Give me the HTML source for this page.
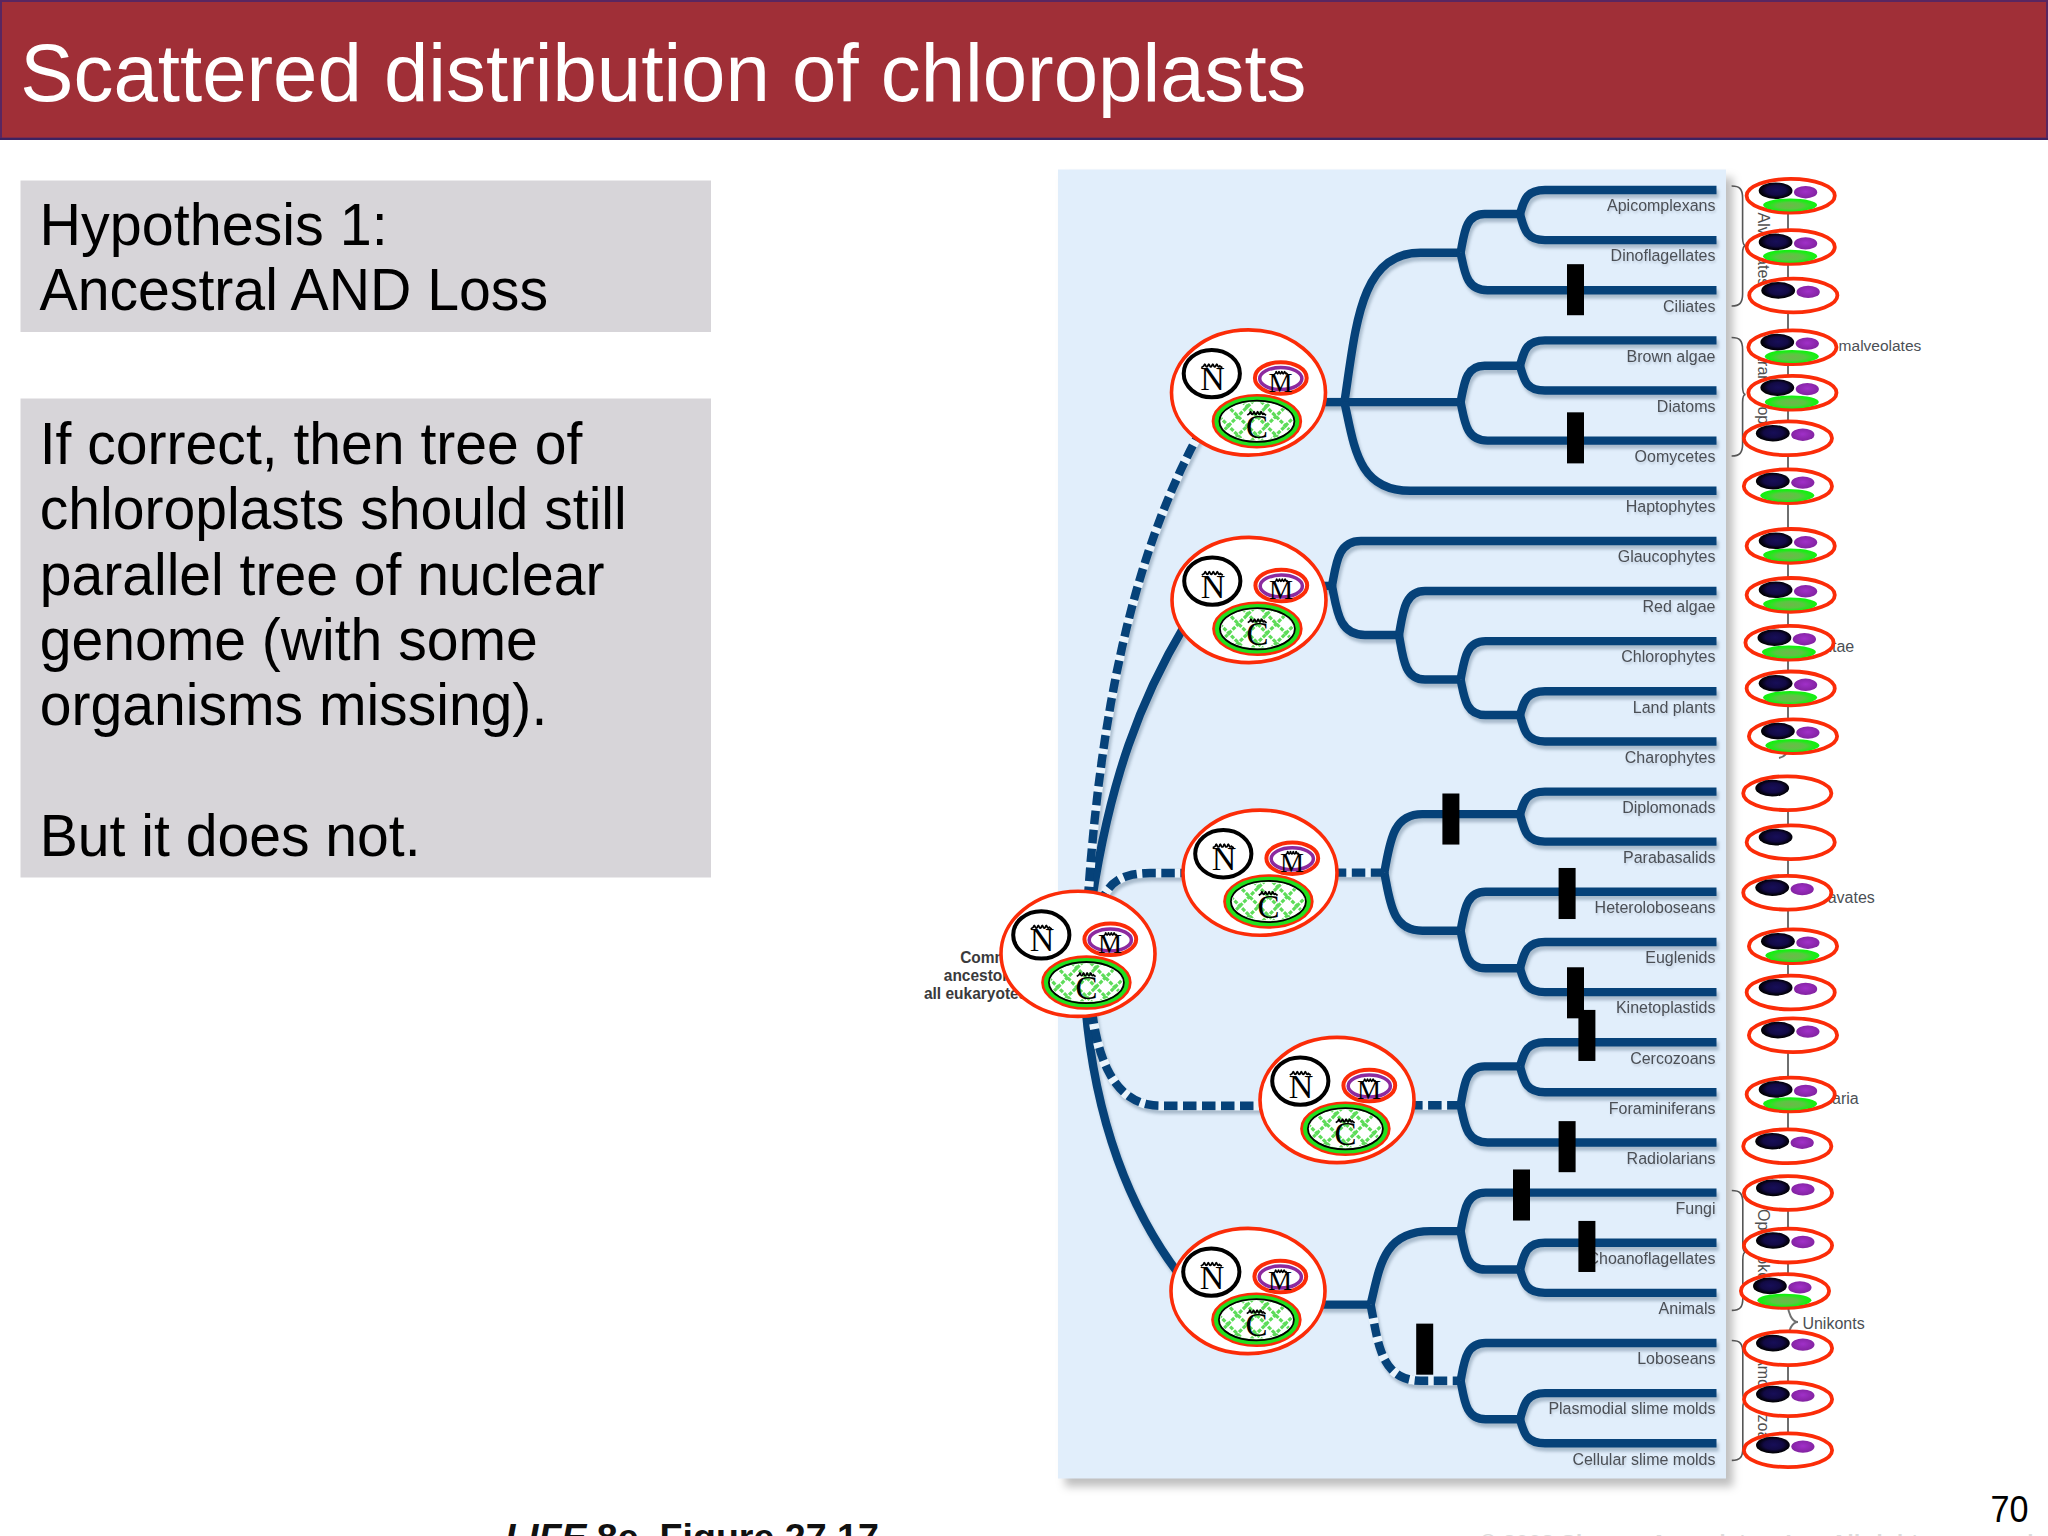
<!DOCTYPE html>
<html><head><meta charset="utf-8"><style>
html,body{margin:0;padding:0;background:#fff;}
body{width:2048px;height:1536px;position:relative;overflow:hidden;font-family:"Liberation Sans",sans-serif;}
</style></head><body>
<svg width="2048" height="1536" style="position:absolute;left:0;top:0">
<rect x="1" y="1" width="2046" height="137.5" fill="#a02f37" stroke="#5a2660" stroke-width="2"/>
<line x1="0" y1="139" x2="2048" y2="139" stroke="#3c2260" stroke-width="2"/>
<text transform="translate(0,100.6) scale(1,1.02)" x="20.3" y="0" font-family="Liberation Sans" font-size="79.8" fill="#fff">Scattered distribution of chloroplasts</text>
<rect x="20.5" y="180.5" width="690.5" height="151.5" fill="#d7d5d9"/>
<rect x="20.5" y="398.5" width="690.5" height="479" fill="#d7d5d9"/>
<text transform="translate(39.5,245.3) scale(1,1.027)" x="0" y="0" font-family="Liberation Sans" font-size="57.5" fill="#000">Hypothesis 1:</text>
<text transform="translate(39.5,309.8) scale(1,1.032)" x="0" y="0" font-family="Liberation Sans" font-size="57.2" fill="#000">Ancestral AND Loss</text>
<text transform="translate(39.7,463.8) scale(1,1.034)" x="0" y="0" font-family="Liberation Sans" font-size="57.1" fill="#000">If correct, then tree of</text>
<text transform="translate(39.7,529.2) scale(1,1.034)" x="0" y="0" font-family="Liberation Sans" font-size="57.1" fill="#000">chloroplasts should still</text>
<text transform="translate(39.7,594.5) scale(1,1.034)" x="0" y="0" font-family="Liberation Sans" font-size="57.1" fill="#000">parallel tree of nuclear</text>
<text transform="translate(39.7,659.9) scale(1,1.034)" x="0" y="0" font-family="Liberation Sans" font-size="57.1" fill="#000">genome (with some</text>
<text transform="translate(39.7,725.3) scale(1,1.034)" x="0" y="0" font-family="Liberation Sans" font-size="57.1" fill="#000">organisms missing).</text>
<text transform="translate(39.7,856.0) scale(1,1.034)" x="0" y="0" font-family="Liberation Sans" font-size="57.1" fill="#000">But it does not.</text>
</svg>
<svg width="2048" height="1536" viewBox="0 0 2048 1536" style="position:absolute;left:0;top:0">
<defs>
<filter id="sh" x="-5%" y="-5%" width="110%" height="110%" color-interpolation-filters="sRGB"><feGaussianBlur in="SourceAlpha" stdDeviation="1.5"/><feOffset dx="1.5" dy="4" result="b"/><feFlood flood-color="#506a80" flood-opacity="0.38"/><feComposite in2="b" operator="in"/><feMerge><feMergeNode/><feMergeNode in="SourceGraphic"/></feMerge></filter>
<filter id="psh" x="-10%" y="-10%" width="120%" height="120%" color-interpolation-filters="sRGB"><feGaussianBlur in="SourceAlpha" stdDeviation="4"/><feOffset dx="7" dy="8" result="b"/><feFlood flood-color="#000" flood-opacity="0.25"/><feComposite in2="b" operator="in"/><feMerge><feMergeNode/><feMergeNode in="SourceGraphic"/></feMerge></filter>
<filter id="tsh" x="-5%" y="-20%" width="110%" height="140%" color-interpolation-filters="sRGB"><feGaussianBlur in="SourceAlpha" stdDeviation="0.8"/><feOffset dx="0.8" dy="1.5" result="b"/><feFlood flood-color="#7a8aa0" flood-opacity="0.35"/><feComposite in2="b" operator="in"/><feMerge><feMergeNode/><feMergeNode in="SourceGraphic"/></feMerge></filter>
<radialGradient id="gN" cx="52%" cy="48%" r="52%"><stop offset="0" stop-color="#170e58"/><stop offset="0.55" stop-color="#120a45"/><stop offset="0.82" stop-color="#050214"/><stop offset="1" stop-color="#000"/></radialGradient>
<radialGradient id="gM" cx="50%" cy="45%" r="55%"><stop offset="0" stop-color="#a030c8"/><stop offset="1" stop-color="#8222a0"/></radialGradient>
<radialGradient id="gC" cx="50%" cy="55%" r="55%"><stop offset="0" stop-color="#6db84a"/><stop offset="0.45" stop-color="#58c840"/><stop offset="0.75" stop-color="#1cec16"/><stop offset="1" stop-color="#0ef00e"/></radialGradient>
</defs>
<rect x="1058" y="169.5" width="668" height="1309" fill="#e1eefb" filter="url(#psh)"/>
<g transform="matrix(1,0,0,1.001,0,-0.69)">
<g filter="url(#sh)" fill="none" stroke="#064279" stroke-width="8.4">
<path d="M1320,402.4 H1344.4"/>
<path d="M1344.4,402.4 C1355.8,327.8 1359.6,253.2 1420.4,253.2 H1460.6"/>
<path d="M1344.4,402.4 H1460.6"/>
<path d="M1344.4,402.4 C1354.3,446.7 1357.6,491.0 1410.4,491.0 H1716.5"/>
<path d="M1460.6,253.2 C1464.2,233.8 1465.4,214.4 1484.6,214.4 H1520.0"/>
<path d="M1460.6,253.2 C1464.6,271.9 1466.0,290.7 1487.6,290.7 H1716.5"/>
<path d="M1520.0,214.4 C1523.8,202.4 1525.0,190.5 1545.0,190.5 H1716.5"/>
<path d="M1520.0,214.4 C1523.8,227.5 1525.0,240.6 1545.0,240.6 H1716.5"/>
<path d="M1460.6,402.4 C1464.2,384.2 1465.4,366.0 1484.6,366.0 H1520.0"/>
<path d="M1460.6,402.4 C1464.6,421.6 1466.0,440.9 1487.6,440.9 H1716.5"/>
<path d="M1520.0,366.0 C1523.8,353.4 1525.0,340.7 1545.0,340.7 H1716.5"/>
<path d="M1520.0,366.0 C1523.8,378.4 1525.0,390.8 1545.0,390.8 H1716.5"/>
<path d="M1320,586 H1332"/>
<path d="M1332.0,586.0 C1336.3,563.5 1337.8,541.1 1361.0,541.1 H1716.5"/>
<path d="M1332.0,586.0 C1337.0,610.5 1338.6,635.0 1365.0,635.0 H1399.0"/>
<path d="M1399.0,635.0 C1402.9,613.1 1404.2,591.1 1425.0,591.1 H1716.5"/>
<path d="M1399.0,635.0 C1402.9,657.2 1404.2,679.5 1425.0,679.5 H1460.6"/>
<path d="M1460.6,679.5 C1464.3,660.4 1465.6,641.2 1485.6,641.2 H1716.5"/>
<path d="M1460.6,679.5 C1464.3,697.2 1465.6,715.0 1485.6,715.0 H1520.0"/>
<path d="M1520.0,715.0 C1523.8,703.1 1525.0,691.3 1545.0,691.3 H1716.5"/>
<path d="M1520.0,715.0 C1523.8,728.2 1525.0,741.4 1545.0,741.4 H1716.5"/>
<path d="M1384.3,872.4 C1390.0,843.2 1391.9,814.0 1422.3,814.0 H1520.0"/>
<path d="M1384.3,872.4 C1390.0,901.5 1391.9,930.5 1422.3,930.5 H1460.6"/>
<path d="M1520.0,814.0 C1523.8,802.7 1525.0,791.5 1545.0,791.5 H1716.5"/>
<path d="M1520.0,814.0 C1523.8,827.8 1525.0,841.5 1545.0,841.5 H1716.5"/>
<path d="M1460.6,930.5 C1464.3,911.1 1465.6,891.6 1485.6,891.6 H1716.5"/>
<path d="M1460.6,930.5 C1464.3,949.2 1465.6,968.0 1485.6,968.0 H1520.0"/>
<path d="M1520.0,968.0 C1523.8,954.8 1525.0,941.7 1545.0,941.7 H1716.5"/>
<path d="M1520.0,968.0 C1523.8,979.9 1525.0,991.8 1545.0,991.8 H1716.5"/>
<path d="M1460.6,1104.8 C1464.2,1085.4 1465.4,1066.0 1484.6,1066.0 H1520.0"/>
<path d="M1460.6,1104.8 C1464.6,1123.4 1466.0,1142.0 1487.6,1142.0 H1716.5"/>
<path d="M1520.0,1066.0 C1523.8,1053.9 1525.0,1041.9 1545.0,1041.9 H1716.5"/>
<path d="M1520.0,1066.0 C1523.8,1079.0 1525.0,1091.9 1545.0,1091.9 H1716.5"/>
<path d="M1320,1304 H1370.6"/>
<path d="M1370.6,1304.0 C1379.6,1267.3 1382.6,1230.6 1430.6,1230.6 H1460.6"/>
<path d="M1460.6,1230.6 C1464.3,1211.3 1465.6,1192.1 1485.6,1192.1 H1716.5"/>
<path d="M1460.6,1230.6 C1464.3,1249.8 1465.6,1269.0 1485.6,1269.0 H1520.0"/>
<path d="M1520.0,1269.0 C1523.8,1255.6 1525.0,1242.2 1545.0,1242.2 H1716.5"/>
<path d="M1520.0,1269.0 C1523.8,1280.6 1525.0,1292.3 1545.0,1292.3 H1716.5"/>
<path d="M1460.6,1380.0 C1464.3,1361.2 1465.6,1342.3 1485.6,1342.3 H1716.5"/>
<path d="M1460.6,1380.0 C1464.3,1399.3 1465.6,1418.6 1485.6,1418.6 H1520.0"/>
<path d="M1520.0,1418.6 C1523.8,1405.5 1525.0,1392.4 1545.0,1392.4 H1716.5"/>
<path d="M1520.0,1418.6 C1523.8,1430.5 1525.0,1442.5 1545.0,1442.5 H1716.5"/>
<path d="M1092,900 C1110,780 1140,700 1185,625"/>
<path d="M1085.4,1005 C1095,1120 1130,1210 1180,1275"/>
<path d="M1384.3,872.4 H1330"/>
<path d="M1460.6,1104.8 H1410"/>
<path d="M1370.6,1304.0 C1378.1,1342.0 1380.6,1380.0 1420.6,1380.0 H1460.6"/>
<path d="M1087.7,900 C1100,720 1130,560 1200,432"/>
<path d="M1100,905 C1108,880 1125,872.8 1150,872.8 H1190"/>
<path d="M1092,1010 C1098,1060 1115,1105.3 1160,1105.3 H1265"/>
</g>
<g fill="none" stroke="#eaf4fc" stroke-width="9.5">
<path d="M1384.3,872.4 H1330" stroke-dasharray="5.5 13.5" stroke-dashoffset="-13.5"/>
<path d="M1460.6,1104.8 H1410" stroke-dasharray="5.5 13.5" stroke-dashoffset="-13.5"/>
<path d="M1370.6,1304.0 C1378.1,1342.0 1380.6,1380.0 1420.6,1380.0 H1460.6" stroke-dasharray="5.5 13.5" stroke-dashoffset="-13.5"/>
<path d="M1087.7,900 C1100,720 1130,560 1200,432" stroke-dasharray="5.5 13.5" stroke-dashoffset="-13.5"/>
<path d="M1100,905 C1108,880 1125,872.8 1150,872.8 H1190" stroke-dasharray="5.5 13.5" stroke-dashoffset="-13.5"/>
<path d="M1092,1010 C1098,1060 1115,1105.3 1160,1105.3 H1265" stroke-dasharray="5.5 13.5" stroke-dashoffset="-13.5"/>
</g>
<g filter="url(#tsh)" font-family="Liberation Sans" font-size="16" fill="#4b4f55" text-anchor="end">
<text x="1715.5" y="211.8">Apicomplexans</text>
<text x="1715.5" y="261.9">Dinoflagellates</text>
<text x="1715.5" y="312.0">Ciliates</text>
<text x="1715.5" y="362.0">Brown algae</text>
<text x="1715.5" y="412.1">Diatoms</text>
<text x="1715.5" y="462.2">Oomycetes</text>
<text x="1715.5" y="512.3">Haptophytes</text>
<text x="1715.5" y="562.4">Glaucophytes</text>
<text x="1715.5" y="612.4">Red algae</text>
<text x="1715.5" y="662.5">Chlorophytes</text>
<text x="1715.5" y="712.6">Land plants</text>
<text x="1715.5" y="762.7">Charophytes</text>
<text x="1715.5" y="812.8">Diplomonads</text>
<text x="1715.5" y="862.8">Parabasalids</text>
<text x="1715.5" y="912.9">Heteroloboseans</text>
<text x="1715.5" y="963.0">Euglenids</text>
<text x="1715.5" y="1013.1">Kinetoplastids</text>
<text x="1715.5" y="1063.2">Cercozoans</text>
<text x="1715.5" y="1113.2">Foraminiferans</text>
<text x="1715.5" y="1163.3">Radiolarians</text>
<text x="1715.5" y="1213.4">Fungi</text>
<text x="1715.5" y="1263.5">Choanoflagellates</text>
<text x="1715.5" y="1313.6">Animals</text>
<text x="1715.5" y="1363.6">Loboseans</text>
<text x="1715.5" y="1413.7">Plasmodial slime molds</text>
<text x="1715.5" y="1463.8">Cellular slime molds</text>
</g>
<rect x="1567" y="264.6" width="17" height="51" fill="#000"/>
<rect x="1567" y="412.6" width="17" height="51" fill="#000"/>
<rect x="1442.4" y="793.4" width="17" height="51" fill="#000"/>
<rect x="1558.6" y="867.8" width="17" height="51" fill="#000"/>
<rect x="1567" y="967" width="17" height="51" fill="#000"/>
<rect x="1578.4" y="1009.6" width="17" height="51" fill="#000"/>
<rect x="1558.6" y="1120.7" width="17" height="51" fill="#000"/>
<rect x="1513" y="1169" width="17" height="51" fill="#000"/>
<rect x="1578.4" y="1220.4" width="17" height="51" fill="#000"/>
<rect x="1416.2" y="1323" width="17" height="51" fill="#000"/>
</g>
<g font-family="Liberation Sans" font-weight="bold" font-size="15.5" fill="#3a3a3c" text-anchor="end">
<text transform="translate(1027.3,962.6) scale(1,1.06)">Common</text><text transform="translate(1027.3,981) scale(1,1.06)">ancestor of</text><text transform="translate(1027.3,999.4) scale(1,1.06)">all eukaryotes</text>
</g>
<g fill="none" stroke="#555" stroke-width="1.6">
<path d="M1731.6,186 C1739.6,186 1742.6,189 1742.6,198 V237.6 C1742.6,242.6 1743.6,245.6 1745.6,245.6 C1743.6,245.6 1742.6,248.6 1742.6,253.6 V294 C1742.6,303 1739.6,306 1731.6,306"/>
<path d="M1731.6,337.5 C1739.6,337.5 1742.6,340.5 1742.6,349.5 V386.5 C1742.6,391.5 1743.6,394.5 1745.6,394.5 C1743.6,394.5 1742.6,397.5 1742.6,402.5 V444 C1742.6,453 1739.6,456 1731.6,456"/>
<path d="M1731.8,1190.5 C1739.8,1190.5 1742.8,1193.5 1742.8,1202.5 V1244 C1742.8,1249 1743.8,1252 1745.8,1252 C1743.8,1252 1742.8,1255 1742.8,1260 V1298.4 C1742.8,1307.4 1739.8,1310.4 1731.8,1310.4"/>
<path d="M1731.8,1340.5 C1739.8,1340.5 1742.8,1343.5 1742.8,1352.5 V1392.5 C1742.8,1397.5 1743.8,1400.5 1745.8,1400.5 C1743.8,1400.5 1742.8,1403.5 1742.8,1408.5 V1448.4 C1742.8,1457.4 1739.8,1460.4 1731.8,1460.4"/>
</g>
<g stroke="#6f6f6f" stroke-width="2" fill="none">
<path d="M1788,210 V745 C1788,752 1785,757 1779,758"/>
<path d="M1788,800 V1010"/><path d="M1788,1040 V1165"/>
<path d="M1788,1205 V1305 C1788,1313 1792,1322 1798,1322 C1792,1322 1788,1331 1788,1339 V1440"/>
</g>
<g font-family="Liberation Sans" font-size="16" fill="#505050">
<text transform="translate(1757.5,212.5) rotate(90)">Alveolates</text>
<text transform="translate(1757.5,346) rotate(90)">Stramenopiles</text>
<text transform="translate(1757.5,1209) rotate(90)">Opisthokonts</text>
<text transform="translate(1757.5,1355) rotate(90)">Amoebozoans</text>
</g>
<g font-family="Liberation Sans" font-size="16" fill="#4b4f55">
<text x="1838.6" y="350.5" font-size="15.5">malveolates</text>
<text x="1800" y="652">Plantae</text>
<text x="1801" y="903">Excavates</text>
<text x="1800" y="1104">Rhizaria</text>
<text x="1802.4" y="1328.5">Unikonts</text>
</g>
<ellipse cx="1790.7" cy="195.8" rx="44.1" ry="16.9" fill="#fff" stroke="#fb2c08" stroke-width="3.8"/>
<ellipse cx="1790.1" cy="205.0" rx="27" ry="6.5" fill="url(#gC)"/>
<ellipse cx="1775.6" cy="190.7" rx="16.9" ry="8.3" fill="url(#gN)"/>
<ellipse cx="1805.6" cy="192.2" rx="11.6" ry="6.2" fill="url(#gM)"/>
<ellipse cx="1790.7" cy="247" rx="44.1" ry="16.9" fill="#fff" stroke="#fb2c08" stroke-width="3.8"/>
<ellipse cx="1790.1" cy="256.2" rx="27" ry="6.5" fill="url(#gC)"/>
<ellipse cx="1775.6" cy="241.9" rx="16.9" ry="8.3" fill="url(#gN)"/>
<ellipse cx="1805.6" cy="243.4" rx="11.6" ry="6.2" fill="url(#gM)"/>
<ellipse cx="1793.3" cy="295.5" rx="44.1" ry="16.9" fill="#fff" stroke="#fb2c08" stroke-width="3.8"/>
<ellipse cx="1778.2" cy="290.4" rx="16.9" ry="8.3" fill="url(#gN)"/>
<ellipse cx="1808.2" cy="291.9" rx="11.6" ry="6.2" fill="url(#gM)"/>
<ellipse cx="1792.4" cy="347.2" rx="44.1" ry="16.9" fill="#fff" stroke="#fb2c08" stroke-width="3.8"/>
<ellipse cx="1791.8" cy="356.4" rx="27" ry="6.5" fill="url(#gC)"/>
<ellipse cx="1777.3" cy="342.1" rx="16.9" ry="8.3" fill="url(#gN)"/>
<ellipse cx="1807.3" cy="343.6" rx="11.6" ry="6.2" fill="url(#gM)"/>
<ellipse cx="1792.4" cy="392.7" rx="44.1" ry="16.9" fill="#fff" stroke="#fb2c08" stroke-width="3.8"/>
<ellipse cx="1791.8" cy="401.9" rx="27" ry="6.5" fill="url(#gC)"/>
<ellipse cx="1777.3" cy="387.6" rx="16.9" ry="8.3" fill="url(#gN)"/>
<ellipse cx="1807.3" cy="389.1" rx="11.6" ry="6.2" fill="url(#gM)"/>
<ellipse cx="1787.9" cy="438.3" rx="44.1" ry="16.9" fill="#fff" stroke="#fb2c08" stroke-width="3.8"/>
<ellipse cx="1772.8" cy="433.2" rx="16.9" ry="8.3" fill="url(#gN)"/>
<ellipse cx="1802.8" cy="434.7" rx="11.6" ry="6.2" fill="url(#gM)"/>
<ellipse cx="1787.9" cy="486.2" rx="44.1" ry="16.9" fill="#fff" stroke="#fb2c08" stroke-width="3.8"/>
<ellipse cx="1787.3" cy="495.4" rx="27" ry="6.5" fill="url(#gC)"/>
<ellipse cx="1772.8" cy="481.1" rx="16.9" ry="8.3" fill="url(#gN)"/>
<ellipse cx="1802.8" cy="482.6" rx="11.6" ry="6.2" fill="url(#gM)"/>
<ellipse cx="1790.7" cy="545.9" rx="44.1" ry="16.9" fill="#fff" stroke="#fb2c08" stroke-width="3.8"/>
<ellipse cx="1790.1" cy="555.1" rx="27" ry="6.5" fill="url(#gC)"/>
<ellipse cx="1775.6" cy="540.8" rx="16.9" ry="8.3" fill="url(#gN)"/>
<ellipse cx="1805.6" cy="542.3" rx="11.6" ry="6.2" fill="url(#gM)"/>
<ellipse cx="1790.7" cy="594.9" rx="44.1" ry="16.9" fill="#fff" stroke="#fb2c08" stroke-width="3.8"/>
<ellipse cx="1790.1" cy="604.1" rx="27" ry="6.5" fill="url(#gC)"/>
<ellipse cx="1775.6" cy="589.8" rx="16.9" ry="8.3" fill="url(#gN)"/>
<ellipse cx="1805.6" cy="591.3" rx="11.6" ry="6.2" fill="url(#gM)"/>
<ellipse cx="1789.5" cy="642.8" rx="44.1" ry="16.9" fill="#fff" stroke="#fb2c08" stroke-width="3.8"/>
<ellipse cx="1788.9" cy="652.0" rx="27" ry="6.5" fill="url(#gC)"/>
<ellipse cx="1774.4" cy="637.7" rx="16.9" ry="8.3" fill="url(#gN)"/>
<ellipse cx="1804.4" cy="639.2" rx="11.6" ry="6.2" fill="url(#gM)"/>
<ellipse cx="1790.7" cy="688.4" rx="44.1" ry="16.9" fill="#fff" stroke="#fb2c08" stroke-width="3.8"/>
<ellipse cx="1790.1" cy="697.6" rx="27" ry="6.5" fill="url(#gC)"/>
<ellipse cx="1775.6" cy="683.3" rx="16.9" ry="8.3" fill="url(#gN)"/>
<ellipse cx="1805.6" cy="684.8" rx="11.6" ry="6.2" fill="url(#gM)"/>
<ellipse cx="1793" cy="736.2" rx="44.1" ry="16.9" fill="#fff" stroke="#fb2c08" stroke-width="3.8"/>
<ellipse cx="1792.4" cy="745.4" rx="27" ry="6.5" fill="url(#gC)"/>
<ellipse cx="1777.9" cy="731.1" rx="16.9" ry="8.3" fill="url(#gN)"/>
<ellipse cx="1807.9" cy="732.6" rx="11.6" ry="6.2" fill="url(#gM)"/>
<ellipse cx="1787.3" cy="793.2" rx="44.1" ry="16.9" fill="#fff" stroke="#fb2c08" stroke-width="3.8"/>
<ellipse cx="1772.2" cy="788.1" rx="16.9" ry="8.3" fill="url(#gN)"/>
<ellipse cx="1790.7" cy="842.2" rx="44.1" ry="16.9" fill="#fff" stroke="#fb2c08" stroke-width="3.8"/>
<ellipse cx="1775.6" cy="837.1" rx="16.9" ry="8.3" fill="url(#gN)"/>
<ellipse cx="1787.3" cy="892.7" rx="44.1" ry="16.9" fill="#fff" stroke="#fb2c08" stroke-width="3.8"/>
<ellipse cx="1772.2" cy="887.6" rx="16.9" ry="8.3" fill="url(#gN)"/>
<ellipse cx="1802.2" cy="889.1" rx="11.6" ry="6.2" fill="url(#gM)"/>
<ellipse cx="1793" cy="946.3" rx="44.1" ry="16.9" fill="#fff" stroke="#fb2c08" stroke-width="3.8"/>
<ellipse cx="1792.4" cy="955.5" rx="27" ry="6.5" fill="url(#gC)"/>
<ellipse cx="1777.9" cy="941.2" rx="16.9" ry="8.3" fill="url(#gN)"/>
<ellipse cx="1807.9" cy="942.7" rx="11.6" ry="6.2" fill="url(#gM)"/>
<ellipse cx="1790.7" cy="992.5" rx="44.1" ry="16.9" fill="#fff" stroke="#fb2c08" stroke-width="3.8"/>
<ellipse cx="1775.6" cy="987.4" rx="16.9" ry="8.3" fill="url(#gN)"/>
<ellipse cx="1805.6" cy="988.9" rx="11.6" ry="6.2" fill="url(#gM)"/>
<ellipse cx="1793" cy="1035.2" rx="44.1" ry="16.9" fill="#fff" stroke="#fb2c08" stroke-width="3.8"/>
<ellipse cx="1777.9" cy="1030.1" rx="16.9" ry="8.3" fill="url(#gN)"/>
<ellipse cx="1807.9" cy="1031.6" rx="11.6" ry="6.2" fill="url(#gM)"/>
<ellipse cx="1790.7" cy="1094.5" rx="44.1" ry="16.9" fill="#fff" stroke="#fb2c08" stroke-width="3.8"/>
<ellipse cx="1790.1" cy="1103.7" rx="27" ry="6.5" fill="url(#gC)"/>
<ellipse cx="1775.6" cy="1089.4" rx="16.9" ry="8.3" fill="url(#gN)"/>
<ellipse cx="1805.6" cy="1090.9" rx="11.6" ry="6.2" fill="url(#gM)"/>
<ellipse cx="1787.3" cy="1146.3" rx="44.1" ry="16.9" fill="#fff" stroke="#fb2c08" stroke-width="3.8"/>
<ellipse cx="1772.2" cy="1141.2" rx="16.9" ry="8.3" fill="url(#gN)"/>
<ellipse cx="1802.2" cy="1142.7" rx="11.6" ry="6.2" fill="url(#gM)"/>
<ellipse cx="1788" cy="1193" rx="44.1" ry="16.9" fill="#fff" stroke="#fb2c08" stroke-width="3.8"/>
<ellipse cx="1772.9" cy="1187.9" rx="16.9" ry="8.3" fill="url(#gN)"/>
<ellipse cx="1802.9" cy="1189.4" rx="11.6" ry="6.2" fill="url(#gM)"/>
<ellipse cx="1788" cy="1245.6" rx="44.1" ry="16.9" fill="#fff" stroke="#fb2c08" stroke-width="3.8"/>
<ellipse cx="1772.9" cy="1240.5" rx="16.9" ry="8.3" fill="url(#gN)"/>
<ellipse cx="1802.9" cy="1242.0" rx="11.6" ry="6.2" fill="url(#gM)"/>
<ellipse cx="1785" cy="1291" rx="44.1" ry="16.9" fill="#fff" stroke="#fb2c08" stroke-width="3.8"/>
<ellipse cx="1784.4" cy="1300.2" rx="27" ry="6.5" fill="url(#gC)"/>
<ellipse cx="1769.9" cy="1285.9" rx="16.9" ry="8.3" fill="url(#gN)"/>
<ellipse cx="1799.9" cy="1287.4" rx="11.6" ry="6.2" fill="url(#gM)"/>
<ellipse cx="1788" cy="1348.2" rx="44.1" ry="16.9" fill="#fff" stroke="#fb2c08" stroke-width="3.8"/>
<ellipse cx="1772.9" cy="1343.1" rx="16.9" ry="8.3" fill="url(#gN)"/>
<ellipse cx="1802.9" cy="1344.6" rx="11.6" ry="6.2" fill="url(#gM)"/>
<ellipse cx="1788" cy="1399.2" rx="44.1" ry="16.9" fill="#fff" stroke="#fb2c08" stroke-width="3.8"/>
<ellipse cx="1772.9" cy="1394.1" rx="16.9" ry="8.3" fill="url(#gN)"/>
<ellipse cx="1802.9" cy="1395.6" rx="11.6" ry="6.2" fill="url(#gM)"/>
<ellipse cx="1788" cy="1450.2" rx="44.1" ry="16.9" fill="#fff" stroke="#fb2c08" stroke-width="3.8"/>
<ellipse cx="1772.9" cy="1445.1" rx="16.9" ry="8.3" fill="url(#gN)"/>
<ellipse cx="1802.9" cy="1446.6" rx="11.6" ry="6.2" fill="url(#gM)"/>
<ellipse cx="1248.5" cy="392.5" rx="77" ry="62.6" fill="#fff" stroke="#fb2c08" stroke-width="3.6"/>
<ellipse cx="1211.8" cy="373.6" rx="28.1" ry="23.7" fill="#fff" stroke="#000" stroke-width="4"/>
<text x="1212.5" y="390.0" font-family="Liberation Serif" font-size="34" text-anchor="middle" fill="#000">N</text>
<path d="M1201.3,367.6 L1203.8,366.0 Q1204.8,362.0 1205.8,366.0 Q1206.8,367.6 1207.8,366.0 Q1208.8,362.0 1209.8,366.0 Q1210.8,367.6 1211.8,366.0 Q1212.8,362.0 1213.8,366.0 Q1214.8,367.6 1215.8,366.0 Q1216.8,362.0 1217.8,366.0 Q1218.8,367.6 1219.8,366.0 L1222.3,367.8" fill="none" stroke="#000" stroke-width="1.7"/>
<ellipse cx="1280.8" cy="378.0" rx="25.9" ry="15.8" fill="#fff" stroke="#fb2c08" stroke-width="4"/>
<ellipse cx="1280.8" cy="378.6" rx="21.1" ry="11" fill="#fff" stroke="#8c2a9f" stroke-width="3.5"/>
<text x="1280.6" y="391.8" font-family="Liberation Serif" font-size="27" text-anchor="middle" fill="#000">M</text>
<path d="M1273.8,374.8 L1275.6,373.2 Q1276.2,369.6 1276.9,373.2 Q1277.6,374.6 1278.3,373.2 Q1279.0,369.6 1279.7,373.2 Q1280.4,374.6 1281.1,373.2 Q1281.8,369.6 1282.5,373.2 Q1283.2,374.6 1283.9,373.2 Q1284.6,369.6 1285.3,373.2 Q1286.0,374.6 1286.6,373.2 L1288.4,375.0" fill="none" stroke="#000" stroke-width="1.5"/>
<ellipse cx="1256.9" cy="421.3" rx="43.5" ry="25.5" fill="#fff" stroke="#fb2c08" stroke-width="3.5"/>
<ellipse cx="1256.9" cy="421.3" rx="40" ry="22.2" fill="#fff" stroke="#22e01e" stroke-width="5"/>
<clipPath id="cp0"><ellipse cx="1256.9" cy="421.3" rx="36" ry="19"/></clipPath>
<path clip-path="url(#cp0)" d="M1155.9,441.3 L1195.9,401.3 M1165.9,401.3 L1205.9,441.3 M1174.9,441.3 L1214.9,401.3 M1184.9,401.3 L1224.9,441.3 M1193.9,441.3 L1233.9,401.3 M1203.9,401.3 L1243.9,441.3 M1212.9,441.3 L1252.9,401.3 M1222.9,401.3 L1262.9,441.3 M1231.9,441.3 L1271.9,401.3 M1241.9,401.3 L1281.9,441.3 M1250.9,441.3 L1290.9,401.3 M1260.9,401.3 L1300.9,441.3 M1269.9,441.3 L1309.9,401.3 M1279.9,401.3 L1319.9,441.3 M1288.9,441.3 L1328.9,401.3 M1298.9,401.3 L1338.9,441.3 M1307.9,441.3 L1347.9,401.3 M1317.9,401.3 L1357.9,441.3" fill="none" stroke="#5edc5a" stroke-width="3.2" stroke-dasharray="4 1.4"/>
<ellipse cx="1256.9" cy="421.3" rx="37.5" ry="20.6" fill="none" stroke="#000" stroke-width="1.8"/>
<text x="1256.9" y="437.8" font-family="Liberation Serif" font-size="33" text-anchor="middle" fill="#000">C</text>
<path d="M1247.3,415.1 L1249.6,413.5 Q1250.4,409.5 1251.3,413.5 Q1252.2,415.1 1253.1,413.5 Q1254.0,409.5 1254.9,413.5 Q1255.8,415.1 1256.7,413.5 Q1257.6,409.5 1258.5,413.5 Q1259.4,415.1 1260.3,413.5 Q1261.2,409.5 1262.1,413.5 Q1263.0,415.1 1263.8,413.5 L1266.1,415.3" fill="none" stroke="#000" stroke-width="1.7"/>
<ellipse cx="1249" cy="600" rx="77" ry="62.6" fill="#fff" stroke="#fb2c08" stroke-width="3.6"/>
<ellipse cx="1212.3" cy="581.1" rx="28.1" ry="23.7" fill="#fff" stroke="#000" stroke-width="4"/>
<text x="1213.0" y="597.5" font-family="Liberation Serif" font-size="34" text-anchor="middle" fill="#000">N</text>
<path d="M1201.8,575.1 L1204.3,573.5 Q1205.3,569.5 1206.3,573.5 Q1207.3,575.1 1208.3,573.5 Q1209.3,569.5 1210.3,573.5 Q1211.3,575.1 1212.3,573.5 Q1213.3,569.5 1214.3,573.5 Q1215.3,575.1 1216.3,573.5 Q1217.3,569.5 1218.3,573.5 Q1219.3,575.1 1220.3,573.5 L1222.8,575.3" fill="none" stroke="#000" stroke-width="1.7"/>
<ellipse cx="1281.3" cy="585.5" rx="25.9" ry="15.8" fill="#fff" stroke="#fb2c08" stroke-width="4"/>
<ellipse cx="1281.3" cy="586.1" rx="21.1" ry="11" fill="#fff" stroke="#8c2a9f" stroke-width="3.5"/>
<text x="1281.1" y="599.3" font-family="Liberation Serif" font-size="27" text-anchor="middle" fill="#000">M</text>
<path d="M1274.3,582.3 L1276.1,580.7 Q1276.7,577.1 1277.4,580.7 Q1278.1,582.1 1278.8,580.7 Q1279.5,577.1 1280.2,580.7 Q1280.9,582.1 1281.6,580.7 Q1282.3,577.1 1283.0,580.7 Q1283.7,582.1 1284.4,580.7 Q1285.1,577.1 1285.8,580.7 Q1286.5,582.1 1287.1,580.7 L1288.9,582.5" fill="none" stroke="#000" stroke-width="1.5"/>
<ellipse cx="1257.4" cy="628.8" rx="43.5" ry="25.5" fill="#fff" stroke="#fb2c08" stroke-width="3.5"/>
<ellipse cx="1257.4" cy="628.8" rx="40" ry="22.2" fill="#fff" stroke="#22e01e" stroke-width="5"/>
<clipPath id="cp1"><ellipse cx="1257.4" cy="628.8" rx="36" ry="19"/></clipPath>
<path clip-path="url(#cp1)" d="M1156.4,648.8 L1196.4,608.8 M1166.4,608.8 L1206.4,648.8 M1175.4,648.8 L1215.4,608.8 M1185.4,608.8 L1225.4,648.8 M1194.4,648.8 L1234.4,608.8 M1204.4,608.8 L1244.4,648.8 M1213.4,648.8 L1253.4,608.8 M1223.4,608.8 L1263.4,648.8 M1232.4,648.8 L1272.4,608.8 M1242.4,608.8 L1282.4,648.8 M1251.4,648.8 L1291.4,608.8 M1261.4,608.8 L1301.4,648.8 M1270.4,648.8 L1310.4,608.8 M1280.4,608.8 L1320.4,648.8 M1289.4,648.8 L1329.4,608.8 M1299.4,608.8 L1339.4,648.8 M1308.4,648.8 L1348.4,608.8 M1318.4,608.8 L1358.4,648.8" fill="none" stroke="#5edc5a" stroke-width="3.2" stroke-dasharray="4 1.4"/>
<ellipse cx="1257.4" cy="628.8" rx="37.5" ry="20.6" fill="none" stroke="#000" stroke-width="1.8"/>
<text x="1257.4" y="645.3" font-family="Liberation Serif" font-size="33" text-anchor="middle" fill="#000">C</text>
<path d="M1247.8,622.6 L1250.1,621.0 Q1250.9,617.0 1251.8,621.0 Q1252.7,622.6 1253.6,621.0 Q1254.5,617.0 1255.4,621.0 Q1256.3,622.6 1257.2,621.0 Q1258.1,617.0 1259.0,621.0 Q1259.9,622.6 1260.8,621.0 Q1261.7,617.0 1262.6,621.0 Q1263.5,622.6 1264.3,621.0 L1266.6,622.8" fill="none" stroke="#000" stroke-width="1.7"/>
<ellipse cx="1260" cy="872.7" rx="77" ry="62.6" fill="#fff" stroke="#fb2c08" stroke-width="3.6"/>
<ellipse cx="1223.3" cy="853.8" rx="28.1" ry="23.7" fill="#fff" stroke="#000" stroke-width="4"/>
<text x="1224.0" y="870.2" font-family="Liberation Serif" font-size="34" text-anchor="middle" fill="#000">N</text>
<path d="M1212.8,847.8 L1215.3,846.2 Q1216.3,842.2 1217.3,846.2 Q1218.3,847.8 1219.3,846.2 Q1220.3,842.2 1221.3,846.2 Q1222.3,847.8 1223.3,846.2 Q1224.3,842.2 1225.3,846.2 Q1226.3,847.8 1227.3,846.2 Q1228.3,842.2 1229.3,846.2 Q1230.3,847.8 1231.3,846.2 L1233.8,848.0" fill="none" stroke="#000" stroke-width="1.7"/>
<ellipse cx="1292.3" cy="858.2" rx="25.9" ry="15.8" fill="#fff" stroke="#fb2c08" stroke-width="4"/>
<ellipse cx="1292.3" cy="858.8" rx="21.1" ry="11" fill="#fff" stroke="#8c2a9f" stroke-width="3.5"/>
<text x="1292.1" y="872.0" font-family="Liberation Serif" font-size="27" text-anchor="middle" fill="#000">M</text>
<path d="M1285.3,855.0 L1287.1,853.4 Q1287.7,849.8 1288.4,853.4 Q1289.1,854.8 1289.8,853.4 Q1290.5,849.8 1291.2,853.4 Q1291.9,854.8 1292.6,853.4 Q1293.3,849.8 1294.0,853.4 Q1294.7,854.8 1295.4,853.4 Q1296.1,849.8 1296.8,853.4 Q1297.5,854.8 1298.1,853.4 L1299.9,855.2" fill="none" stroke="#000" stroke-width="1.5"/>
<ellipse cx="1268.4" cy="901.5" rx="43.5" ry="25.5" fill="#fff" stroke="#fb2c08" stroke-width="3.5"/>
<ellipse cx="1268.4" cy="901.5" rx="40" ry="22.2" fill="#fff" stroke="#22e01e" stroke-width="5"/>
<clipPath id="cp2"><ellipse cx="1268.4" cy="901.5" rx="36" ry="19"/></clipPath>
<path clip-path="url(#cp2)" d="M1167.4,921.5 L1207.4,881.5 M1177.4,881.5 L1217.4,921.5 M1186.4,921.5 L1226.4,881.5 M1196.4,881.5 L1236.4,921.5 M1205.4,921.5 L1245.4,881.5 M1215.4,881.5 L1255.4,921.5 M1224.4,921.5 L1264.4,881.5 M1234.4,881.5 L1274.4,921.5 M1243.4,921.5 L1283.4,881.5 M1253.4,881.5 L1293.4,921.5 M1262.4,921.5 L1302.4,881.5 M1272.4,881.5 L1312.4,921.5 M1281.4,921.5 L1321.4,881.5 M1291.4,881.5 L1331.4,921.5 M1300.4,921.5 L1340.4,881.5 M1310.4,881.5 L1350.4,921.5 M1319.4,921.5 L1359.4,881.5 M1329.4,881.5 L1369.4,921.5" fill="none" stroke="#5edc5a" stroke-width="3.2" stroke-dasharray="4 1.4"/>
<ellipse cx="1268.4" cy="901.5" rx="37.5" ry="20.6" fill="none" stroke="#000" stroke-width="1.8"/>
<text x="1268.4" y="918.0" font-family="Liberation Serif" font-size="33" text-anchor="middle" fill="#000">C</text>
<path d="M1258.8,895.3 L1261.1,893.7 Q1261.9,889.7 1262.8,893.7 Q1263.7,895.3 1264.6,893.7 Q1265.5,889.7 1266.4,893.7 Q1267.3,895.3 1268.2,893.7 Q1269.1,889.7 1270.0,893.7 Q1270.9,895.3 1271.8,893.7 Q1272.7,889.7 1273.6,893.7 Q1274.5,895.3 1275.3,893.7 L1277.6,895.5" fill="none" stroke="#000" stroke-width="1.7"/>
<ellipse cx="1078" cy="953.8" rx="77" ry="62.6" fill="#fff" stroke="#fb2c08" stroke-width="3.6"/>
<ellipse cx="1041.3" cy="934.9" rx="28.1" ry="23.7" fill="#fff" stroke="#000" stroke-width="4"/>
<text x="1042.0" y="951.3" font-family="Liberation Serif" font-size="34" text-anchor="middle" fill="#000">N</text>
<path d="M1030.8,928.9 L1033.3,927.3 Q1034.3,923.3 1035.3,927.3 Q1036.3,928.9 1037.3,927.3 Q1038.3,923.3 1039.3,927.3 Q1040.3,928.9 1041.3,927.3 Q1042.3,923.3 1043.3,927.3 Q1044.3,928.9 1045.3,927.3 Q1046.3,923.3 1047.3,927.3 Q1048.3,928.9 1049.3,927.3 L1051.8,929.1" fill="none" stroke="#000" stroke-width="1.7"/>
<ellipse cx="1110.3" cy="939.3" rx="25.9" ry="15.8" fill="#fff" stroke="#fb2c08" stroke-width="4"/>
<ellipse cx="1110.3" cy="939.9" rx="21.1" ry="11" fill="#fff" stroke="#8c2a9f" stroke-width="3.5"/>
<text x="1110.1" y="953.1" font-family="Liberation Serif" font-size="27" text-anchor="middle" fill="#000">M</text>
<path d="M1103.3,936.1 L1105.1,934.5 Q1105.7,930.9 1106.4,934.5 Q1107.1,935.9 1107.8,934.5 Q1108.5,930.9 1109.2,934.5 Q1109.9,935.9 1110.6,934.5 Q1111.3,930.9 1112.0,934.5 Q1112.7,935.9 1113.4,934.5 Q1114.1,930.9 1114.8,934.5 Q1115.5,935.9 1116.1,934.5 L1117.9,936.3" fill="none" stroke="#000" stroke-width="1.5"/>
<ellipse cx="1086.4" cy="982.6" rx="43.5" ry="25.5" fill="#fff" stroke="#fb2c08" stroke-width="3.5"/>
<ellipse cx="1086.4" cy="982.6" rx="40" ry="22.2" fill="#fff" stroke="#22e01e" stroke-width="5"/>
<clipPath id="cp3"><ellipse cx="1086.4" cy="982.6" rx="36" ry="19"/></clipPath>
<path clip-path="url(#cp3)" d="M985.4,1002.6 L1025.4,962.6 M995.4,962.6 L1035.4,1002.6 M1004.4,1002.6 L1044.4,962.6 M1014.4,962.6 L1054.4,1002.6 M1023.4,1002.6 L1063.4,962.6 M1033.4,962.6 L1073.4,1002.6 M1042.4,1002.6 L1082.4,962.6 M1052.4,962.6 L1092.4,1002.6 M1061.4,1002.6 L1101.4,962.6 M1071.4,962.6 L1111.4,1002.6 M1080.4,1002.6 L1120.4,962.6 M1090.4,962.6 L1130.4,1002.6 M1099.4,1002.6 L1139.4,962.6 M1109.4,962.6 L1149.4,1002.6 M1118.4,1002.6 L1158.4,962.6 M1128.4,962.6 L1168.4,1002.6 M1137.4,1002.6 L1177.4,962.6 M1147.4,962.6 L1187.4,1002.6" fill="none" stroke="#5edc5a" stroke-width="3.2" stroke-dasharray="4 1.4"/>
<ellipse cx="1086.4" cy="982.6" rx="37.5" ry="20.6" fill="none" stroke="#000" stroke-width="1.8"/>
<text x="1086.4" y="999.1" font-family="Liberation Serif" font-size="33" text-anchor="middle" fill="#000">C</text>
<path d="M1076.8,976.4 L1079.1,974.8 Q1079.9,970.8 1080.8,974.8 Q1081.7,976.4 1082.6,974.8 Q1083.5,970.8 1084.4,974.8 Q1085.3,976.4 1086.2,974.8 Q1087.1,970.8 1088.0,974.8 Q1088.9,976.4 1089.8,974.8 Q1090.7,970.8 1091.6,974.8 Q1092.5,976.4 1093.3,974.8 L1095.6,976.6" fill="none" stroke="#000" stroke-width="1.7"/>
<ellipse cx="1337" cy="1100" rx="77" ry="62.6" fill="#fff" stroke="#fb2c08" stroke-width="3.6"/>
<ellipse cx="1300.3" cy="1081.1" rx="28.1" ry="23.7" fill="#fff" stroke="#000" stroke-width="4"/>
<text x="1301.0" y="1097.5" font-family="Liberation Serif" font-size="34" text-anchor="middle" fill="#000">N</text>
<path d="M1289.8,1075.1 L1292.3,1073.5 Q1293.3,1069.5 1294.3,1073.5 Q1295.3,1075.1 1296.3,1073.5 Q1297.3,1069.5 1298.3,1073.5 Q1299.3,1075.1 1300.3,1073.5 Q1301.3,1069.5 1302.3,1073.5 Q1303.3,1075.1 1304.3,1073.5 Q1305.3,1069.5 1306.3,1073.5 Q1307.3,1075.1 1308.3,1073.5 L1310.8,1075.3" fill="none" stroke="#000" stroke-width="1.7"/>
<ellipse cx="1369.3" cy="1085.5" rx="25.9" ry="15.8" fill="#fff" stroke="#fb2c08" stroke-width="4"/>
<ellipse cx="1369.3" cy="1086.1" rx="21.1" ry="11" fill="#fff" stroke="#8c2a9f" stroke-width="3.5"/>
<text x="1369.1" y="1099.3" font-family="Liberation Serif" font-size="27" text-anchor="middle" fill="#000">M</text>
<path d="M1362.3,1082.3 L1364.1,1080.7 Q1364.7,1077.1 1365.4,1080.7 Q1366.1,1082.1 1366.8,1080.7 Q1367.5,1077.1 1368.2,1080.7 Q1368.9,1082.1 1369.6,1080.7 Q1370.3,1077.1 1371.0,1080.7 Q1371.7,1082.1 1372.4,1080.7 Q1373.1,1077.1 1373.8,1080.7 Q1374.5,1082.1 1375.1,1080.7 L1376.9,1082.5" fill="none" stroke="#000" stroke-width="1.5"/>
<ellipse cx="1345.4" cy="1128.8" rx="43.5" ry="25.5" fill="#fff" stroke="#fb2c08" stroke-width="3.5"/>
<ellipse cx="1345.4" cy="1128.8" rx="40" ry="22.2" fill="#fff" stroke="#22e01e" stroke-width="5"/>
<clipPath id="cp4"><ellipse cx="1345.4" cy="1128.8" rx="36" ry="19"/></clipPath>
<path clip-path="url(#cp4)" d="M1244.4,1148.8 L1284.4,1108.8 M1254.4,1108.8 L1294.4,1148.8 M1263.4,1148.8 L1303.4,1108.8 M1273.4,1108.8 L1313.4,1148.8 M1282.4,1148.8 L1322.4,1108.8 M1292.4,1108.8 L1332.4,1148.8 M1301.4,1148.8 L1341.4,1108.8 M1311.4,1108.8 L1351.4,1148.8 M1320.4,1148.8 L1360.4,1108.8 M1330.4,1108.8 L1370.4,1148.8 M1339.4,1148.8 L1379.4,1108.8 M1349.4,1108.8 L1389.4,1148.8 M1358.4,1148.8 L1398.4,1108.8 M1368.4,1108.8 L1408.4,1148.8 M1377.4,1148.8 L1417.4,1108.8 M1387.4,1108.8 L1427.4,1148.8 M1396.4,1148.8 L1436.4,1108.8 M1406.4,1108.8 L1446.4,1148.8" fill="none" stroke="#5edc5a" stroke-width="3.2" stroke-dasharray="4 1.4"/>
<ellipse cx="1345.4" cy="1128.8" rx="37.5" ry="20.6" fill="none" stroke="#000" stroke-width="1.8"/>
<text x="1345.4" y="1145.3" font-family="Liberation Serif" font-size="33" text-anchor="middle" fill="#000">C</text>
<path d="M1335.8,1122.6 L1338.1,1121.0 Q1338.9,1117.0 1339.8,1121.0 Q1340.7,1122.6 1341.6,1121.0 Q1342.5,1117.0 1343.4,1121.0 Q1344.3,1122.6 1345.2,1121.0 Q1346.1,1117.0 1347.0,1121.0 Q1347.9,1122.6 1348.8,1121.0 Q1349.7,1117.0 1350.6,1121.0 Q1351.5,1122.6 1352.3,1121.0 L1354.6,1122.8" fill="none" stroke="#000" stroke-width="1.7"/>
<ellipse cx="1248" cy="1291" rx="77" ry="62.6" fill="#fff" stroke="#fb2c08" stroke-width="3.6"/>
<ellipse cx="1211.3" cy="1272.1" rx="28.1" ry="23.7" fill="#fff" stroke="#000" stroke-width="4"/>
<text x="1212.0" y="1288.5" font-family="Liberation Serif" font-size="34" text-anchor="middle" fill="#000">N</text>
<path d="M1200.8,1266.1 L1203.3,1264.5 Q1204.3,1260.5 1205.3,1264.5 Q1206.3,1266.1 1207.3,1264.5 Q1208.3,1260.5 1209.3,1264.5 Q1210.3,1266.1 1211.3,1264.5 Q1212.3,1260.5 1213.3,1264.5 Q1214.3,1266.1 1215.3,1264.5 Q1216.3,1260.5 1217.3,1264.5 Q1218.3,1266.1 1219.3,1264.5 L1221.8,1266.3" fill="none" stroke="#000" stroke-width="1.7"/>
<ellipse cx="1280.3" cy="1276.5" rx="25.9" ry="15.8" fill="#fff" stroke="#fb2c08" stroke-width="4"/>
<ellipse cx="1280.3" cy="1277.1" rx="21.1" ry="11" fill="#fff" stroke="#8c2a9f" stroke-width="3.5"/>
<text x="1280.1" y="1290.3" font-family="Liberation Serif" font-size="27" text-anchor="middle" fill="#000">M</text>
<path d="M1273.3,1273.3 L1275.1,1271.7 Q1275.7,1268.1 1276.4,1271.7 Q1277.1,1273.1 1277.8,1271.7 Q1278.5,1268.1 1279.2,1271.7 Q1279.9,1273.1 1280.6,1271.7 Q1281.3,1268.1 1282.0,1271.7 Q1282.7,1273.1 1283.4,1271.7 Q1284.1,1268.1 1284.8,1271.7 Q1285.5,1273.1 1286.1,1271.7 L1287.9,1273.5" fill="none" stroke="#000" stroke-width="1.5"/>
<ellipse cx="1256.4" cy="1319.8" rx="43.5" ry="25.5" fill="#fff" stroke="#fb2c08" stroke-width="3.5"/>
<ellipse cx="1256.4" cy="1319.8" rx="40" ry="22.2" fill="#fff" stroke="#22e01e" stroke-width="5"/>
<clipPath id="cp5"><ellipse cx="1256.4" cy="1319.8" rx="36" ry="19"/></clipPath>
<path clip-path="url(#cp5)" d="M1155.4,1339.8 L1195.4,1299.8 M1165.4,1299.8 L1205.4,1339.8 M1174.4,1339.8 L1214.4,1299.8 M1184.4,1299.8 L1224.4,1339.8 M1193.4,1339.8 L1233.4,1299.8 M1203.4,1299.8 L1243.4,1339.8 M1212.4,1339.8 L1252.4,1299.8 M1222.4,1299.8 L1262.4,1339.8 M1231.4,1339.8 L1271.4,1299.8 M1241.4,1299.8 L1281.4,1339.8 M1250.4,1339.8 L1290.4,1299.8 M1260.4,1299.8 L1300.4,1339.8 M1269.4,1339.8 L1309.4,1299.8 M1279.4,1299.8 L1319.4,1339.8 M1288.4,1339.8 L1328.4,1299.8 M1298.4,1299.8 L1338.4,1339.8 M1307.4,1339.8 L1347.4,1299.8 M1317.4,1299.8 L1357.4,1339.8" fill="none" stroke="#5edc5a" stroke-width="3.2" stroke-dasharray="4 1.4"/>
<ellipse cx="1256.4" cy="1319.8" rx="37.5" ry="20.6" fill="none" stroke="#000" stroke-width="1.8"/>
<text x="1256.4" y="1336.3" font-family="Liberation Serif" font-size="33" text-anchor="middle" fill="#000">C</text>
<path d="M1246.8,1313.6 L1249.1,1312.0 Q1249.9,1308.0 1250.8,1312.0 Q1251.7,1313.6 1252.6,1312.0 Q1253.5,1308.0 1254.4,1312.0 Q1255.3,1313.6 1256.2,1312.0 Q1257.1,1308.0 1258.0,1312.0 Q1258.9,1313.6 1259.8,1312.0 Q1260.7,1308.0 1261.6,1312.0 Q1262.5,1313.6 1263.3,1312.0 L1265.6,1313.8" fill="none" stroke="#000" stroke-width="1.7"/>
<text transform="translate(2028.5,1522) scale(1,1.065)" x="0" y="0" font-family="Liberation Sans" font-size="34.2" text-anchor="end" fill="#000">70</text>
<text x="1480" y="1550" font-family="Liberation Sans" font-weight="bold" font-size="22" fill="#dcdcdc" textLength="560" lengthAdjust="spacing">© 2008 Sinauer Associates, Inc. All rights reserved.</text>
<text x="505" y="1549.5" font-family="Liberation Sans" font-weight="bold" font-size="37.6" fill="#111"><tspan font-style="italic">LIFE </tspan>8e, Figure 27.17</text>
</svg>
</body></html>
